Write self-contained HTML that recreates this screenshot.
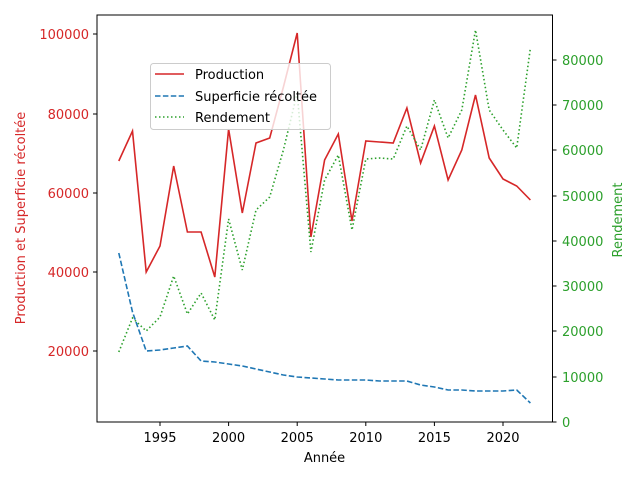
<!DOCTYPE html>
<html><head><meta charset="utf-8"><style>body{margin:0;background:#fff}svg{display:block}</style></head><body>
<svg width="640" height="480" xmlns="http://www.w3.org/2000/svg" font-family="DejaVu Sans, Liberation Sans, sans-serif" font-size="13">
<rect width="640" height="480" fill="#fff"/>
<g fill="none" stroke-width="1.6">
<polyline stroke="#d62728" points="118.8,161 132.5,131 146.2,272 160,246 173.7,166 187.4,232 201.1,232 214.8,277 228.6,129 242.3,213 256,143 269.7,138 283.4,87 297.2,33 310.9,237 324.6,160 338.3,134 352,221 365.8,141 379.5,142 393.2,143 406.9,108 420.6,163 434.4,126 448.1,180 461.8,150 475.5,95 489.2,158 503,179 516.7,186 530.4,200"/>
<polyline stroke="#1f77b4" stroke-dasharray="5.5,2.4" points="118.8,253 132.5,312 146.2,351 160,350 173.7,348 187.4,346 201.1,361 214.8,362 228.6,364 242.3,366 256,369 269.7,372 283.4,375 297.2,377 310.9,378 324.6,379 338.3,380 352,380 365.8,380 379.5,381 393.2,381 406.9,381 420.6,385 434.4,387 448.1,390 461.8,390 475.5,391 489.2,391 503,391 516.7,390 530.4,403"/>
<polyline stroke="#2ca02c" stroke-dasharray="1.5,2.5" points="118.8,352 132.5,318 146.2,331 160,317 173.7,276 187.4,314 201.1,293 214.8,320 228.6,219 242.3,270 256,210 269.7,197 283.4,150 297.2,93 310.9,252 324.6,180 338.3,155 352,230 365.8,159 379.5,158 393.2,159 406.9,126 420.6,150 434.4,100 448.1,138 461.8,110 475.5,30 489.2,110 503,130 516.7,148 530.4,48"/>
</g>
<rect x="97" y="15" width="455.5" height="407" fill="none" stroke="#000" stroke-width="1"/>
<g stroke="#000" stroke-width="1">
<line x1="160" y1="422" x2="160" y2="426"/><line x1="228.6" y1="422" x2="228.6" y2="426"/><line x1="297.2" y1="422" x2="297.2" y2="426"/><line x1="365.8" y1="422" x2="365.8" y2="426"/><line x1="434.4" y1="422" x2="434.4" y2="426"/><line x1="503" y1="422" x2="503" y2="426"/>
<line x1="93" y1="34" x2="97" y2="34"/><line x1="93" y1="114" x2="97" y2="114"/><line x1="93" y1="193" x2="97" y2="193"/><line x1="93" y1="272" x2="97" y2="272"/><line x1="93" y1="351" x2="97" y2="351"/>
<line x1="552.5" y1="60" x2="556.5" y2="60"/><line x1="552.5" y1="105" x2="556.5" y2="105"/><line x1="552.5" y1="150" x2="556.5" y2="150"/><line x1="552.5" y1="196" x2="556.5" y2="196"/><line x1="552.5" y1="241" x2="556.5" y2="241"/><line x1="552.5" y1="286" x2="556.5" y2="286"/><line x1="552.5" y1="331" x2="556.5" y2="331"/><line x1="552.5" y1="377" x2="556.5" y2="377"/><line x1="552.5" y1="422" x2="556.5" y2="422"/>
</g>
<g text-anchor="middle" fill="#000">
<text x="160" y="442">1995</text><text x="228.6" y="442">2000</text><text x="297.2" y="442">2005</text><text x="365.8" y="442">2010</text><text x="434.4" y="442">2015</text><text x="503" y="442">2020</text>
<text x="324.5" y="462">Année</text>
</g>
<g text-anchor="end" fill="#d62728">
<text x="89" y="39">100000</text><text x="89" y="119">80000</text><text x="89" y="198">60000</text><text x="89" y="277">40000</text><text x="89" y="356">20000</text>
</g>
<text transform="translate(25,218) rotate(-90)" text-anchor="middle" fill="#d62728">Production et Superficie récoltée</text>
<g fill="#2ca02c">
<text x="562" y="65">80000</text><text x="562" y="110">70000</text><text x="562" y="155">60000</text><text x="562" y="201">50000</text><text x="562" y="246">40000</text><text x="562" y="291">30000</text><text x="562" y="336">20000</text><text x="562" y="382">10000</text><text x="562" y="427">0</text>
</g>
<text transform="translate(622,220) rotate(-90)" text-anchor="middle" fill="#2ca02c">Rendement</text>
<rect x="150.5" y="63.5" width="180" height="66" rx="3" fill="#fff" fill-opacity="0.8" stroke="#ccc"/>
<line x1="155" y1="74" x2="184" y2="74" stroke="#d62728" stroke-width="1.6"/>
<line x1="155" y1="96" x2="184" y2="96" stroke="#1f77b4" stroke-width="1.6" stroke-dasharray="5.5,2.4"/>
<line x1="155" y1="117" x2="184" y2="117" stroke="#2ca02c" stroke-width="1.6" stroke-dasharray="1.5,2.5"/>
<text x="195" y="79">Production</text>
<text x="195" y="101">Superficie récoltée</text>
<text x="195" y="122">Rendement</text>
</svg>
</body></html>
